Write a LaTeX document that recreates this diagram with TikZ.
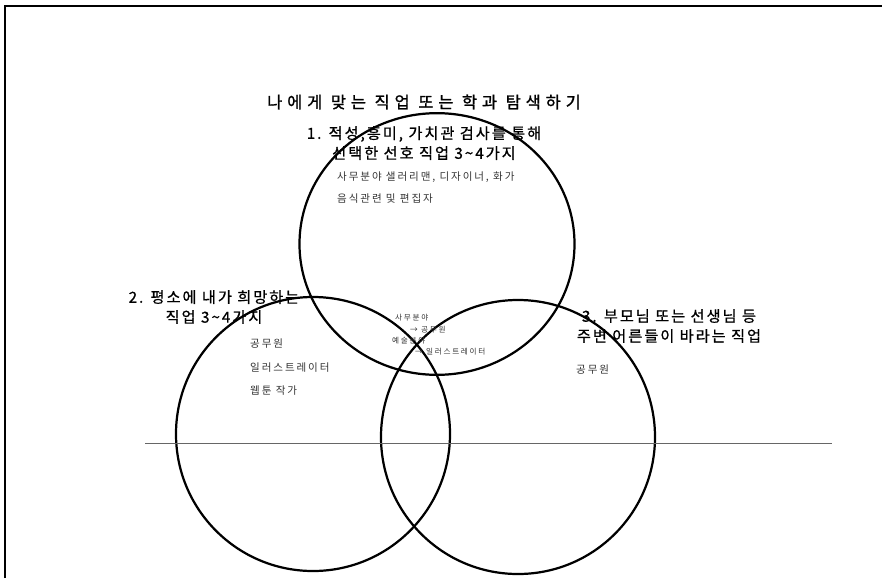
\documentclass[tikz,border=0pt]{standalone}
\usepackage{fontspec}
\setmainfont{Noto Sans CJK KR}
\usetikzlibrary{shapes.geometric}
\begin{document}
\begin{tikzpicture}[x=0.03cm,y=-0.03cm,
    every node/.style={inner sep=0pt},
    ring/.style={circle,draw,line width=1.9pt,minimum size=8.22cm},
    heading/.style={align=center,font=\fontsize{13}{17}\selectfont\addfontfeature{LetterSpace=13,FakeBold=0.8}},
    note/.style={anchor=west,text=black!80,font=\fontsize{9}{11}\selectfont\addfontfeature{LetterSpace=18}},
    tiny/.style={anchor=west,text=black!80,font=\fontsize{6.5}{8}\selectfont\addfontfeature{LetterSpace=22}}]
    \useasboundingbox (0,0) rectangle (885,578);

    % frame of the sheet
    \coordinate (tl) at (5,6);
    \coordinate (tr) at (882,6);
    \coordinate (bl) at (5,578);
    \draw[line width=1.5pt] (bl) -- (tl) -- (tr);

    \node[font=\fontsize{14}{15}\selectfont\addfontfeature{LetterSpace=30,FakeBold=1.2}] (title) at (424,102) {나에게 맞는 직업 또는 학과 탐색하기};

    % the three circles
    \node[ring,ellipse,minimum width=8.25cm,minimum height=7.85cm] (c1) at (437,244) {};
    \node[ring] (c2) at (313,434) {};
    \node[ring] (c3) at (518,437) {};

    % ruled line behind
    \coordinate (la) at (145,443);
    \coordinate (lb) at (832,443);
    \draw[black!60,line width=0.6pt] (la) -- (lb);

    \node[heading] (h1) at (424,143) {1. 적성,흥미, 가치관 검사를 통해\\선택한 선호 직업 3\textasciitilde4가지};
    \node[heading] (h2) at (214,307) {2. 평소에 내가 희망하는\\직업 3\textasciitilde4가지};
    \node[heading] (h3) at (669,326) {3. 부모님 또는 선생님 등\\주변 어른들이 바라는 직업};

    \node[note] (n1a) at (337,177) {사무분야 샐러리맨, 디자이너, 화가};
    \node[note] (n1b) at (337,199) {음식관련 및 편집자};

    \node[note] (n2a) at (250,344) {공무원};
    \node[note] (n2b) at (250,368) {일러스트레이터};
    \node[note] (n2c) at (250,391) {웹툰 작가};

    \node[tiny] (m1) at (395,318) {사무분야};
    \node[tiny] (m2) at (410,330) {→ 공무원};
    \node[tiny] (m3) at (392,341) {예술분야};
    \node[tiny] (m4) at (415,352) {→ 일러스트레이터};

    \node[note] (n3a) at (576,370) {공무원};
\end{tikzpicture}
\end{document}
